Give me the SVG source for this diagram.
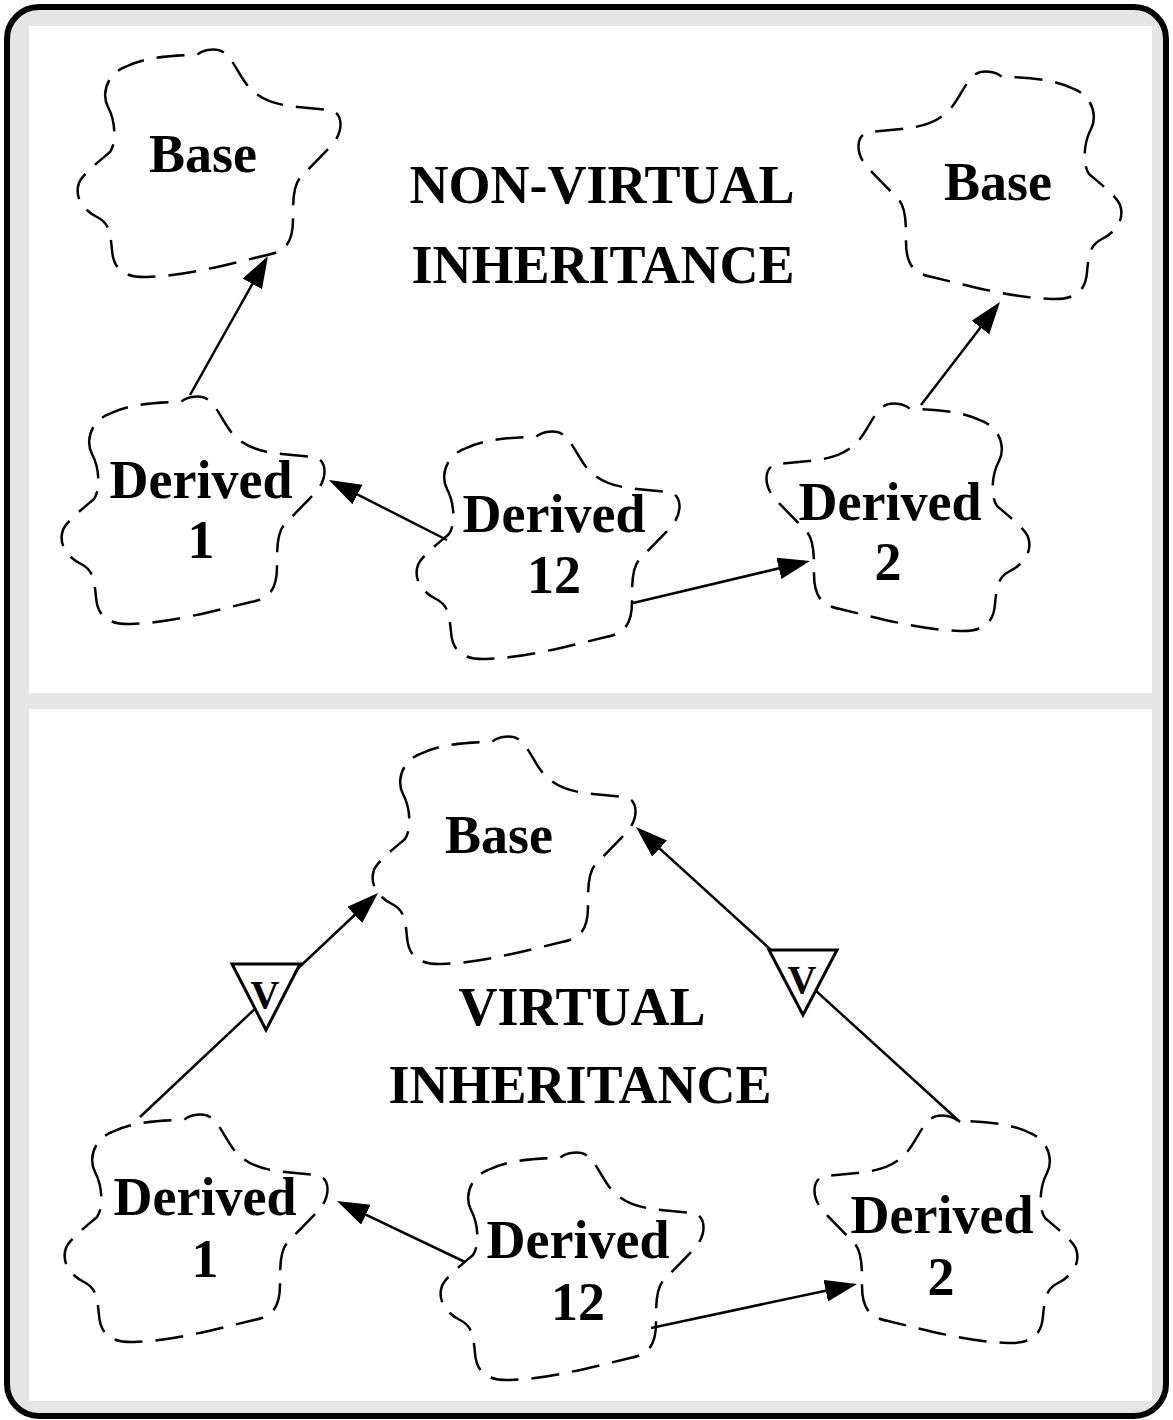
<svg xmlns="http://www.w3.org/2000/svg" width="1173" height="1420" viewBox="0 0 1173 1420">
  <defs>
    <style>
      .cloud { fill: none; stroke: #000; stroke-width: 2.5; stroke-dasharray: 28 13; }
      .lbl { font-family: "Liberation Serif", "Times New Roman", serif; font-weight: bold; font-size: 54px; fill: #000; text-anchor: middle; }
      .adorn { font-family: "Liberation Serif", "Times New Roman", serif; font-weight: bold; font-size: 40px; fill: #000; text-anchor: middle; }
      .edge { fill: none; stroke: #000; stroke-width: 2.5; }
      .tri { fill: #fff; stroke: #000; stroke-width: 3; stroke-linejoin: miter; }
    </style>
    <!-- irregular cloud outline, local box roughly 0..265 x 0..228 -->
    <path id="cloudShape" d="M31,57 C24,44 30,24 48,17 C60,11 80,5 120,5 C126,-1 140,-2 146,2 C158,10 163,30 175,40 C185,50 200,55 221,57 L253,60 C266,62 268,82 253,97 L223,128 C216,136 216,150 216,170 C216,195 206,202 190,205 C160,212 110,226 70,227 C44,228 36,216 35,200 C33,178 30,172 20,167 C6,160 -3,147 2,133 C5,125 20,113 33,102 C40,92 38,70 31,57 Z"/>
    <marker id="arrow" markerUnits="userSpaceOnUse" markerWidth="34" markerHeight="24" refX="24" refY="11" orient="auto">
      <path d="M0,0 L32,11 L0,22 Z" fill="#000"/>
    </marker>
  </defs>

  <!-- frame and panels -->
  <g id="frame">
    <rect x="7" y="7" width="1159" height="1409" rx="32" ry="32" fill="#e5e5e5" stroke="#000" stroke-width="6"/>
    <rect x="29" y="26" width="1123" height="667" fill="#fff"/>
    <rect x="29" y="709" width="1123" height="692" fill="#fff"/>
  </g>

  <!-- connectors -->
  <g id="connectors">
    <line class="edge" x1="190" y1="395" x2="264.1" y2="263" marker-end="url(#arrow)"/>
    <line class="edge" x1="447" y1="540" x2="336.1" y2="483.6" marker-end="url(#arrow)"/>
    <line class="edge" x1="633" y1="603" x2="802.2" y2="562.8" marker-end="url(#arrow)"/>
    <line class="edge" x1="921" y1="405" x2="995.1" y2="308.4" marker-end="url(#arrow)"/>
    <line class="edge" x1="140" y1="1117" x2="372.2" y2="898.5" marker-end="url(#arrow)"/>
    <line class="edge" x1="960" y1="1122" x2="641.9" y2="832.4" marker-end="url(#arrow)"/>
    <line class="edge" x1="465" y1="1262" x2="344.2" y2="1204.4" marker-end="url(#arrow)"/>
    <line class="edge" x1="651" y1="1328" x2="849.2" y2="1285.7" marker-end="url(#arrow)"/>
    <!-- virtual adornments -->
    <g id="virtual-left">
      <polygon class="tri" points="232,964 300,964 266,1030"/>
      <text class="adorn" x="265" y="1008">V</text>
    </g>
    <g id="virtual-right">
      <polygon class="tri" points="769,950 837,950 803,1015"/>
      <text class="adorn" x="802" y="993">V</text>
    </g>
  </g>

  <!-- panel titles -->
  <g id="title-nonvirtual">
    <text class="lbl" x="602" y="203">NON-VIRTUAL</text>
    <text class="lbl" x="603" y="283">INHERITANCE</text>
  </g>
  <g id="title-virtual">
    <text class="lbl" x="582" y="1025">VIRTUAL</text>
    <text class="lbl" x="580" y="1103">INHERITANCE</text>
  </g>

  <!-- non-virtual nodes -->
  <g id="nv-base-left">
    <use href="#cloudShape" class="cloud" transform="translate(77,50)"/>
    <text class="lbl" x="203" y="172">Base</text>
  </g>
  <g id="nv-base-right">
    <use href="#cloudShape" class="cloud" transform="translate(1122,72) scale(-1,1)"/>
    <text class="lbl" x="998" y="200">Base</text>
  </g>
  <g id="nv-derived1">
    <use href="#cloudShape" class="cloud" transform="translate(61,397)"/>
    <text class="lbl" x="201" y="498">Derived</text>
    <text class="lbl" x="201" y="558">1</text>
  </g>
  <g id="nv-derived12">
    <use href="#cloudShape" class="cloud" transform="translate(416,432)"/>
    <text class="lbl" x="554" y="532">Derived</text>
    <text class="lbl" x="554" y="593">12</text>
  </g>
  <g id="nv-derived2">
    <use href="#cloudShape" class="cloud" transform="translate(1030,404) scale(-1,1)"/>
    <text class="lbl" x="890" y="520">Derived</text>
    <text class="lbl" x="888" y="580">2</text>
  </g>

  <!-- virtual nodes -->
  <g id="v-base">
    <use href="#cloudShape" class="cloud" transform="translate(372,737)"/>
    <text class="lbl" x="499" y="853">Base</text>
  </g>
  <g id="v-derived1">
    <use href="#cloudShape" class="cloud" transform="translate(64,1115)"/>
    <text class="lbl" x="205" y="1215">Derived</text>
    <text class="lbl" x="205" y="1277">1</text>
  </g>
  <g id="v-derived12">
    <use href="#cloudShape" class="cloud" transform="translate(440,1153)"/>
    <text class="lbl" x="578" y="1258">Derived</text>
    <text class="lbl" x="578" y="1320">12</text>
  </g>
  <g id="v-derived2">
    <use href="#cloudShape" class="cloud" transform="translate(1078,1116) scale(-1,1)"/>
    <text class="lbl" x="942" y="1233">Derived</text>
    <text class="lbl" x="941" y="1295">2</text>
  </g>
</svg>
